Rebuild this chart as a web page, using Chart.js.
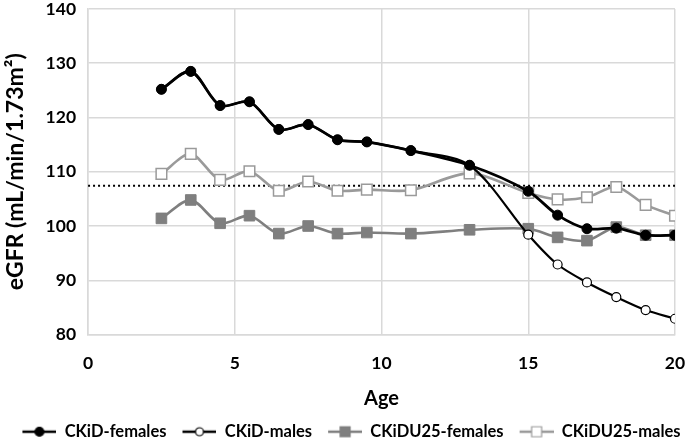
<!DOCTYPE html>
<html>
<head>
<meta charset="utf-8">
<script src="https://cdn.jsdelivr.net/npm/chart.js"></script>
<style>
  html, body { margin: 0; padding: 0; background: #fff; }
  #wrap { width: 685px; height: 444px; }
</style>
</head>
<body>
<div id="wrap"><canvas id="chart"></canvas></div>
<script>
const ages = [2.5, 3.5, 4.5, 5.5, 6.5, 7.5, 8.5, 9.5, 11, 13, 15, 16, 17, 18, 19, 20]
const ckidFemales = [125.2, 128.5, 122.2, 122.9, 117.8, 118.7, 115.9, 115.5, 113.9, 111.2, 106.4, 102.0, 99.5, 99.6, 98.3, 98.3]
const ckidMales = [125.2, 128.5, 122.2, 122.9, 117.8, 118.7, 115.9, 115.5, 113.9, 111.2, 98.4, 92.9, 89.6, 86.9, 84.5, 82.9]
const u25Females = [101.4, 104.8, 100.5, 101.9, 98.6, 100.0, 98.6, 98.8, 98.6, 99.3, 99.5, 97.9, 97.3, 99.8, 98.3, 98.3]
const u25Males = [109.6, 113.3, 108.5, 110.1, 106.5, 108.2, 106.5, 106.7, 106.6, 109.7, 106.1, 104.9, 105.3, 107.2, 103.9, 101.9]
const refX = [0, 20]
const refY = [107.4, 107.4]
const yTicks = [80, 90, 100, 110, 120, 130, 140]
const xTicks = [0, 5, 10, 15, 20]

const font = 'Lato, "Open Sans", sans-serif'

function pts(xs, ys) {
    return xs.map((x, i) => ({ x: x, y: ys[i] }))
}

// legend swatch: short line with the marker in the middle (left margin = gap between items)
function swatch(color, shape, filled) {
    const c = document.createElement('canvas')
    c.width = 50
    c.height = 14
    const ctx = c.getContext('2d')
    ctx.strokeStyle = color
    ctx.lineWidth = 2.5
    ctx.beginPath()
    ctx.moveTo(16, 7)
    ctx.lineTo(50, 7)
    ctx.stroke()
    ctx.lineWidth = 1.2
    ctx.fillStyle = filled ? color : '#fff'
    ctx.beginPath()
    if (shape === 'circle') {
        ctx.arc(33, 7, filled ? 4.5 : 4, 0, Math.PI * 2)
    } else {
        ctx.rect(28, 2, 10, 10)
    }
    ctx.fill()
    ctx.stroke()
    return c
}

const black = '#000000'
const gray = '#7f7f7f'
const lightGray = '#9a9a9a'

new Chart(document.getElementById('chart'), {
    type: 'line',
    data: {
        datasets: [{
            label: 'CKiD-females',
            data: pts(ages, ckidFemales),
            borderColor: black,
            backgroundColor: black,
            borderWidth: 2.8,
            pointStyle: 'circle',
            pointRadius: 5,
            pointBorderWidth: 1,
            tension: 0.3,
            legendSwatch: swatch(black, 'circle', true)
        }, {
            label: 'CKiD-males',
            data: pts(ages, ckidMales),
            borderColor: black,
            backgroundColor: '#ffffff',
            borderWidth: 2.2,
            pointStyle: 'circle',
            pointRadius: 4.5,
            pointBorderWidth: 1.2,
            tension: 0.3,
            legendSwatch: swatch(black, 'circle', false)
        }, {
            label: 'CKiDU25-females',
            data: pts(ages, u25Females),
            borderColor: gray,
            backgroundColor: gray,
            borderWidth: 2.6,
            pointStyle: 'rect',
            pointRadius: 7.5,
            pointBorderWidth: 1,
            tension: 0.3,
            legendSwatch: swatch(gray, 'rect', true)
        }, {
            label: 'CKiDU25-males',
            data: pts(ages, u25Males),
            borderColor: lightGray,
            backgroundColor: '#ffffff',
            borderWidth: 2.6,
            pointStyle: 'rect',
            pointRadius: 7.5,
            pointBorderWidth: 1.5,
            tension: 0.3,
            legendSwatch: swatch(lightGray, 'rect', false)
        }, {
            label: 'ref',
            data: pts(refX, refY),
            borderColor: black,
            borderWidth: 2,
            borderDash: [2, 3],
            pointRadius: 0,
            tension: 0
        }]
    },
    options: {
        animation: false,
        responsive: true,
        maintainAspectRatio: false,
        layout: { padding: { left: 2, right: 0, top: 0, bottom: -6 } },
        plugins: {
            tooltip: { enabled: false },
            legend: {
                position: 'bottom',
                labels: {
                    usePointStyle: true,
                    pointStyleWidth: 50,
                    padding: 0,
                    color: '#000',
                    font: { family: font, size: 16.5, weight: 'bold' },
                    filter: item => item.text !== 'ref',
                    generateLabels: chart => chart.data.datasets.map((ds, i) => ({
                        text: ds.label,
                        pointStyle: ds.legendSwatch,
                        fontColor: '#000',
                        lineWidth: 0,
                        strokeStyle: 'transparent',
                        fillStyle: 'transparent',
                        datasetIndex: i
                    }))
                }
            }
        },
        scales: {
            x: {
                type: 'linear',
                min: 0,
                max: 20,
                afterBuildTicks: axis => { axis.ticks = xTicks.map(v => ({ value: v })) },
                afterFit: axis => { axis.paddingRight = 10 },
                grid: { color: '#d9d9d9', lineWidth: 1.5, drawTicks: false },
                border: { color: '#d9d9d9', width: 1.5 },
                ticks: { color: '#000', padding: 18, font: { family: font, size: 17.5, weight: 'bold' } },
                title: { display: true, text: 'Age', color: '#000', padding: { top: -5, bottom: 13 }, font: { family: font, size: 20, weight: 'bold' } }
            },
            y: {
                min: 80,
                max: 140,
                afterBuildTicks: axis => { axis.ticks = yTicks.map(v => ({ value: v })) },
                afterFit: axis => { axis.paddingTop = 3; axis.paddingBottom = 0 },
                grid: { color: '#d9d9d9', lineWidth: 1.5, drawTicks: false },
                border: { color: '#d9d9d9', width: 1.5 },
                ticks: { color: '#000', padding: 12, font: { family: font, size: 17.5, weight: 'bold' } },
                title: { display: true, text: 'eGFR (mL/min/1.73m²)', color: '#000', padding: { top: 0, bottom: 4 }, font: { family: font, size: 23, weight: 'bold' } }
            }
        }
    }
})
</script>
</body>
</html>
